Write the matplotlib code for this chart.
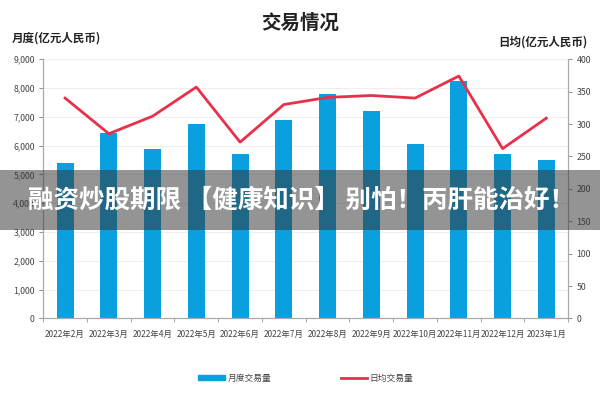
import matplotlib
matplotlib.use("Agg")
import matplotlib.pyplot as plt
import numpy as np
from matplotlib.patches import Rectangle
from matplotlib.lines import Line2D
from matplotlib.patches import Patch

plt.rcParams['font.family'] = ['Noto Sans CJK SC', 'DejaVu Sans']

categories = ["2022年2月", "2022年3月", "2022年4月", "2022年5月", "2022年6月", "2022年7月",
              "2022年8月", "2022年9月", "2022年10月", "2022年11月", "2022年12月", "2023年1月"]
monthly = [5400, 6440, 5880, 6750, 5710, 6890, 7800, 7200, 6060, 8250, 5710, 5500]
daily = [340, 285, 312, 357, 272, 330, 341, 344, 340, 374, 262, 309]
left_ticks = [0, 1000, 2000, 3000, 4000, 5000, 6000, 7000, 8000, 9000]
right_ticks = [0, 50, 100, 150, 200, 250, 300, 350, 400]

bar_color = "#0aa0e0"
line_color = "#e8304a"
tick_color = "#444444"

fig = plt.figure(figsize=(6, 4), dpi=100)
ax = fig.add_axes([0.072, 0.204, 0.875, 0.648])
x = np.arange(len(categories))
ax.bar(x, monthly, width=0.39, color=bar_color, zorder=2)
ax.set_xlim(-0.5, len(categories) - 0.5)
ax.set_ylim(0, 9000)
ax.set_yticks(left_ticks)
ax.set_yticklabels([f"{v:,}" for v in left_ticks], fontsize=6.3, color=tick_color)
ax.set_xticks(x)
ax.set_xticklabels(categories, fontsize=6.0, color=tick_color)
ax.set_xticks(np.arange(-0.5, len(categories), 1), minor=True)
ax.tick_params(axis='x', which='major', length=0, pad=8)
ax.tick_params(axis='x', which='minor', length=3, color="#999999")
ax.tick_params(axis='y', length=3, color="#999999", pad=3)
ax.grid(axis='y', color="#eeeeee", linewidth=0.8, zorder=0)
ax.set_axisbelow(True)
ax.spines['top'].set_visible(False)
for s in ['left', 'right', 'bottom']:
    ax.spines[s].set_color("#aaaaaa")
    ax.spines[s].set_linewidth(0.8)

ax2 = ax.twinx()
ax2.plot(x, daily, color=line_color, linewidth=2, zorder=3)
ax2.set_ylim(0, 400)
ax2.set_yticks(right_ticks)
ax2.set_yticklabels([str(v) for v in right_ticks], fontsize=6.3, color=tick_color)
ax2.tick_params(axis='y', length=3, color="#999999", pad=3)
ax2.spines['top'].set_visible(False)
for s in ['left', 'right', 'bottom']:
    ax2.spines[s].set_color("#aaaaaa")
    ax2.spines[s].set_linewidth(0.8)

fig.text(0.5, 0.943, "交易情况", ha='center', va='center', fontsize=14, fontweight='bold', color="#222222")
fig.text(0.02, 0.905, "月度(亿元人民币)", ha='left', va='center', fontsize=8.3, fontweight='bold', color="#222222")
fig.text(0.98, 0.895, "日均(亿元人民币)", ha='right', va='center', fontsize=8.3, fontweight='bold', color="#222222")

handles = [Patch(color=bar_color), Line2D([0], [0], color=line_color, linewidth=2)]
fig.legend(handles, ["月度交易量", "日均交易量"], loc='center', bbox_to_anchor=(0.51, 0.055),
           ncol=2, frameon=False, fontsize=6.3, handlelength=3.0, handleheight=0.5,
           handletextpad=0.3, columnspacing=8.0, labelcolor="#444444")

# overlay banner
fig.patches.append(Rectangle((0, 0.425), 1, 0.15, transform=fig.transFigure,
                             facecolor="#333333", alpha=0.52, zorder=10))
fig.text(0.503, 0.5, "融资炒股期限 【健康知识】 别怕！丙肝能治好！", ha='center', va='center',
         fontsize=18.4, fontweight='bold', color='white', zorder=11)

fig.savefig("out.png", dpi=100)
